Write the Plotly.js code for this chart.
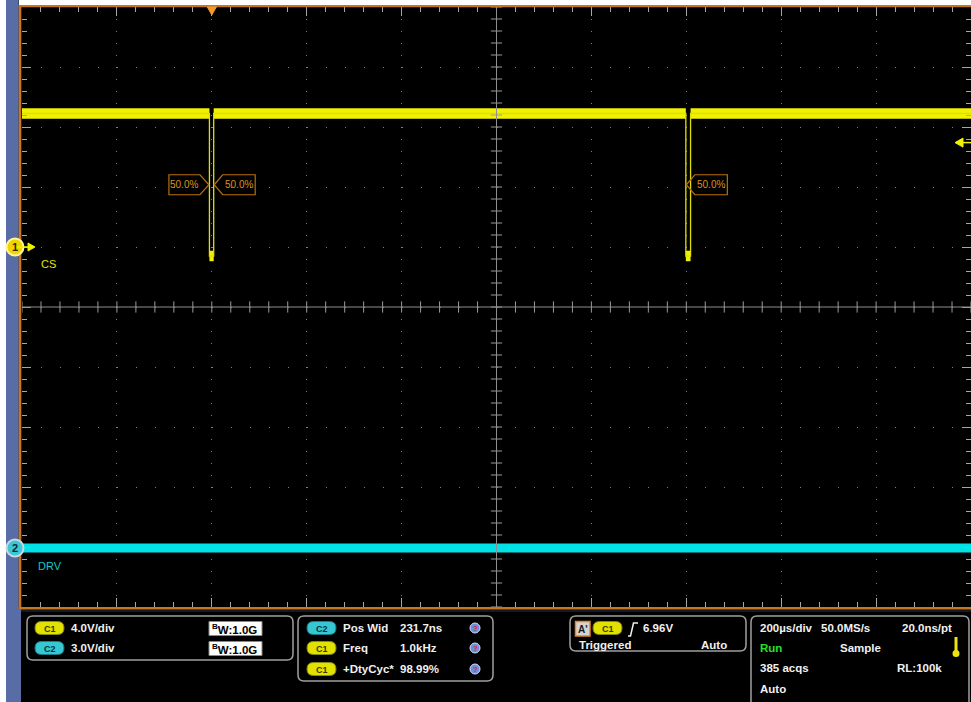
<!DOCTYPE html>
<html>
<head>
<meta charset="utf-8">
<script src="https://cdn.plot.ly/plotly-3.0.1.min.js"></script>
<style>html,body{margin:0;padding:0;background:#000;overflow:hidden}#chart{width:971px;height:702px}</style>
</head>
<body>
<div id="chart"></div>
<script>
// ---- data ----
// CH1 "CS" (4 V/div), time in microseconds relative to trigger (200 us/div)
const cs_t = [-400, -5, -5, 4, 4, 999, 999, 1009, 1009, 1600];
const cs_v = [8.9, 8.9, -0.6, -0.6, 8.9, 8.9, -0.6, -0.6, 8.9, 8.9];
// CH2 "DRV" (3 V/div)
const drv_t = [-400, 1600];
const drv_v = [0, 0];
// trigger level (V) and measurement edge times (us)
const trig_level = 6.96;
const edge_left_box = -5;   // falling edge, callout box on left
const edge_right_box = [4, 999]; // edges with callout box on right
// readouts
const ch_labels = ["C1", "C2"];
const ch_scales = ["4.0V/div", "3.0V/div"];
const bw_labels = ["1.0G", "1.0G"];
const meas_src = ["C2", "C1", "C1"];
const meas_names = ["Pos Wid", "Freq", "+DtyCyc*"];
const meas_vals = ["231.7ns", "1.0kHz", "98.99%"];
const trig_text = ["6.96V", "Triggered", "Auto"];
const acq_text = [["200\u00b5s/div", "50.0MS/s", "20.0ns/pt"], ["Run", "Sample"], ["385 acqs", "RL:100k"], ["Auto"]];

// ---- styling constants ----
const YEL = '#f2f200', CYN = '#00e2e6', ORG = '#c8761e';
const CS_BAND = 0.35, DRV_BAND = 0.23;
const L = 22, T = 7, PW = 949, PH = 600;
const px2x = p => (p - L) / PW;
const py2y = p => (T + PH - p) / PH;
const FONT = 'Liberation Sans, Arial, sans-serif';

const cs_hi = cs_v.map(v => v + CS_BAND), cs_lo = cs_v.map(v => v - CS_BAND);
const drv_hi = drv_v.map(v => v + DRV_BAND), drv_lo = drv_v.map(v => v - DRV_BAND);
const cs_mid = (Math.max(...cs_v) + Math.min(...cs_v)) / 2;

// center graticule ticks
const xr = [-400, 1600], yr = [-24, 16];
const cx = (xr[0] + xr[1]) / 2, cy = (yr[0] + yr[1]) / 2;
const tickX = [], tickY = [];
for (let t = xr[0]; t <= xr[1] + 1e-9; t += 40) tickX.push(t);
for (let v = yr[0]; v <= yr[1] + 1e-9; v += 0.8) tickY.push(v);

const traces = [
  {x: cs_t, y: cs_lo, mode: 'lines', line: {width: 0, color: YEL}, hoverinfo: 'skip'},
  {x: cs_t, y: cs_hi, mode: 'lines', fill: 'tonexty', fillcolor: YEL, line: {width: 0, color: YEL}, hoverinfo: 'skip'},
  {x: cs_t, y: cs_v, mode: 'lines', line: {width: 1.3, color: '#e0e000'}, hoverinfo: 'skip'},
  {x: drv_t, y: drv_lo, yaxis: 'y2', mode: 'lines', line: {width: 0, color: CYN}, hoverinfo: 'skip'},
  {x: drv_t, y: drv_hi, yaxis: 'y2', mode: 'lines', fill: 'tonexty', fillcolor: CYN, line: {width: 0, color: CYN}, hoverinfo: 'skip'},
  {x: tickX, y: tickX.map(() => cy), mode: 'markers', marker: {symbol: 'line-ns', size: 8, line: {width: 1, color: '#9a9a9a'}}, hoverinfo: 'skip'},
  {x: tickY.map(() => cx), y: tickY, mode: 'markers', marker: {symbol: 'line-ew', size: 8, line: {width: 1, color: '#9a9a9a'}}, hoverinfo: 'skip'}
];

function rr(x0, y0, x1, y1, r) {
  const X = px2x, Y = py2y;
  return `M${X(x0 + r)},${Y(y0)} L${X(x1 - r)},${Y(y0)} Q${X(x1)},${Y(y0)} ${X(x1)},${Y(y0 + r)} L${X(x1)},${Y(y1 - r)} Q${X(x1)},${Y(y1)} ${X(x1 - r)},${Y(y1)} L${X(x0 + r)},${Y(y1)} Q${X(x0)},${Y(y1)} ${X(x0)},${Y(y1 - r)} L${X(x0)},${Y(y0 + r)} Q${X(x0)},${Y(y0)} ${X(x0 + r)},${Y(y0)} Z`;
}
const prect = (x0, y0, x1, y1, fill, line, lw) => ({type: 'rect', xref: 'paper', yref: 'paper', x0: px2x(x0), x1: px2x(x1), y0: py2y(y1), y1: py2y(y0), fillcolor: fill, line: {width: lw || 0, color: line || fill}, layer: 'above'});
const ppath = (d, fill, line, lw) => ({type: 'path', xref: 'paper', yref: 'paper', path: d, fillcolor: fill, line: {width: lw, color: line}, layer: 'above'});
const ui = (t, x, y, o = {}) => ({xref: 'paper', yref: 'paper', x: px2x(x), y: py2y(y), xanchor: o.anchor || 'left', yanchor: 'middle', text: t, showarrow: false, borderpad: 0, font: {family: FONT, size: o.size || 11.5, color: o.color || '#f0f0f0', weight: o.weight || 700}});

const shapes = [], annotations = [];

// frame / borders
shapes.push(prect(19, 0, 975, 5, '#ffffff'));
shapes.push(prect(-2, -2, 6, 710, '#ffffff'));
shapes.push(prect(6, -2, 18.7, 710, '#586ca6'));
shapes.push(prect(6, 609.5, 21, 710, '#586ca6'));
shapes.push(prect(18.7, 5, 21.3, 609.5, ORG));
shapes.push(prect(18.7, 5, 975, 7.3, ORG));
shapes.push(prect(18.7, 606.9, 975, 609.5, ORG));
shapes.push(prect(21, 610.5, 975, 611.5, '#2a3346'));

// center cross lines
shapes.push({type: 'line', xref: 'x', yref: 'paper', x0: cx, x1: cx, y0: 0, y1: 1, line: {color: '#8e8e8e', width: 1}, layer: 'above'});
shapes.push({type: 'line', xref: 'paper', yref: 'y', x0: 0, x1: 1, y0: cy, y1: cy, line: {color: '#8e8e8e', width: 1}, layer: 'above'});

// ground markers
shapes.push({type: 'circle', xref: 'paper', yref: 'y', xsizemode: 'pixel', ysizemode: 'pixel', xanchor: 0, yanchor: 0, x0: -15.5, x1: 1.5, y0: -8.5, y1: 8.5, fillcolor: '#f2d400', line: {color: '#fff49a', width: 2}, layer: 'above'});
shapes.push({type: 'path', xref: 'paper', yref: 'y', xsizemode: 'pixel', ysizemode: 'pixel', xanchor: 0, yanchor: 0, path: 'M-6,0 L7,0', line: {color: YEL, width: 1.5}, layer: 'above'});
shapes.push({type: 'path', xref: 'paper', yref: 'y', xsizemode: 'pixel', ysizemode: 'pixel', xanchor: 0, yanchor: 0, path: 'M6,4 L13,0 L6,-4 Z', fillcolor: YEL, line: {color: YEL, width: 1}, layer: 'above'});
shapes.push({type: 'circle', xref: 'paper', yref: 'y2', xsizemode: 'pixel', ysizemode: 'pixel', xanchor: 0, yanchor: 0, x0: -15.5, x1: 1.5, y0: -8.5, y1: 8.5, fillcolor: '#3cc6d6', line: {color: '#c8d8e0', width: 2}, layer: 'above'});
annotations.push({xref: 'paper', yref: 'y', x: px2x(15), y: 0, xanchor: 'center', yanchor: 'middle', text: '<b>1</b>', showarrow: false, font: {family: FONT, size: 11, color: '#302800'}});
annotations.push({xref: 'paper', yref: 'y2', x: px2x(15), y: 0, xanchor: 'center', yanchor: 'middle', text: '<b>2</b>', showarrow: false, font: {family: FONT, size: 11, color: '#0c2a34'}});
annotations.push({xref: 'paper', yref: 'y', x: px2x(39), y: 0, yshift: -17, xanchor: 'left', yanchor: 'middle', text: 'CS', showarrow: false, font: {family: FONT, size: 11, color: '#e6e600'}});
annotations.push({xref: 'paper', yref: 'y2', x: px2x(36), y: 0, yshift: -18, xanchor: 'left', yanchor: 'middle', text: 'DRV', showarrow: false, font: {family: FONT, size: 11, color: '#10c8cc'}});

// trigger markers
shapes.push({type: 'path', xref: 'x', yref: 'paper', xsizemode: 'pixel', ysizemode: 'pixel', xanchor: 0, yanchor: 1, path: 'M-4.5,0 L4.5,0 L0,-8 Z', fillcolor: '#f29a2e', line: {color: '#f29a2e', width: 1}, layer: 'above'});
shapes.push({type: 'path', xref: 'paper', yref: 'y', xsizemode: 'pixel', ysizemode: 'pixel', xanchor: 1, yanchor: trig_level, path: 'M-16,0 L-8,4.5 L-8,-4.5 Z', fillcolor: YEL, line: {color: YEL, width: 1}, layer: 'above'});
shapes.push({type: 'path', xref: 'paper', yref: 'y', xsizemode: 'pixel', ysizemode: 'pixel', xanchor: 1, yanchor: trig_level, path: 'M-9,0 L2,0', line: {color: YEL, width: 1.5}, layer: 'above'});

// measurement callouts
const CO_LINE = '#b8700e', CO_TXT = '#dc921c';
shapes.push({type: 'path', xref: 'x', yref: 'y', xsizemode: 'pixel', ysizemode: 'pixel', xanchor: edge_left_box, yanchor: cs_mid, path: 'M-40.5,10 L-9.5,10 L-0.5,0 L-9.5,-10 L-40.5,-10 Z', line: {color: CO_LINE, width: 1.2}, layer: 'above'});
annotations.push({xref: 'x', yref: 'y', x: edge_left_box, y: cs_mid, xshift: -25, xanchor: 'center', yanchor: 'middle', text: '50.0%', showarrow: false, font: {family: FONT, size: 10, color: CO_TXT}});
edge_right_box.forEach(t => {
  shapes.push({type: 'path', xref: 'x', yref: 'y', xsizemode: 'pixel', ysizemode: 'pixel', xanchor: t, yanchor: cs_mid, path: 'M0.5,0 L9,10 L41.5,10 L41.5,-10 L9,-10 Z', line: {color: CO_LINE, width: 1.2}, layer: 'above'});
  annotations.push({xref: 'x', yref: 'y', x: t, y: cs_mid, xshift: 25.5, xanchor: 'center', yanchor: 'middle', text: '50.0%', showarrow: false, font: {family: FONT, size: 10, color: CO_TXT}});
});

// ---- bottom readout panels ----
const BOX = '#a0a0a0';
shapes.push(ppath(rr(27, 616, 293, 660, 6), 'rgba(0,0,0,0)', BOX, 1.5));
shapes.push(ppath(rr(298, 616, 493, 681, 6), 'rgba(0,0,0,0)', BOX, 1.5));
shapes.push(ppath(rr(570, 616, 746, 651, 6), 'rgba(0,0,0,0)', BOX, 1.5));
shapes.push(ppath(rr(751, 616, 969, 720, 6), 'rgba(0,0,0,0)', BOX, 1.5));

function pill(label, x0, yc) {
  const c1 = label === 'C1';
  shapes.push(ppath(rr(x0, yc - 6.5, x0 + 29, yc + 6.5, 6.5), c1 ? '#e2e200' : '#36c8d2', c1 ? '#8a8a10' : '#1e7a88', 1));
  annotations.push(ui('<b>' + label + '</b>', x0 + 14.5, yc + 0.5, {anchor: 'center', size: 9, color: c1 ? '#3a3a00' : '#083040'}));
}
// panel 1
[628, 648].forEach((y, i) => {
  pill(ch_labels[i], 35, y);
  annotations.push(ui('<b>' + ch_scales[i] + '</b>', 70, y));
  shapes.push(prect(209, y - 6.5, 262, y + 7.5, '#ffffff', '#888888', 1));
  annotations.push(ui('<b><sup>B</sup>W:' + bw_labels[i] + '</b>', 211, y + 1, {color: '#000000', size: 11.5}));
});
// panel 2
[628, 648, 669].forEach((y, i) => {
  pill(meas_src[i], 307, y);
  annotations.push(ui('<b>' + meas_names[i] + '</b>', 342, y));
  annotations.push(ui('<b>' + meas_vals[i] + '</b>', 399, y));
  shapes.push({type: 'circle', xref: 'paper', yref: 'paper', x0: px2x(470), x1: px2x(480), y0: py2y(y + 5), y1: py2y(y - 5), fillcolor: '#6a8ee0', line: {color: '#d6dcf0', width: 1}, layer: 'above'});
  annotations.push(ui('<b>?</b>', 475, y, {anchor: 'center', size: 8, color: '#e02828'}));
});
// panel 3
shapes.push(prect(575.5, 621.5, 590, 636, '#d4d4d4', '#e4861e', 1.5));
annotations.push(ui("<b>A'</b>", 582.8, 629, {anchor: 'center', size: 10, color: '#1a1a1a'}));
pill('C1', 593, 628);
shapes.push(ppath(`M${px2x(628)},${py2y(636)} L${px2x(630.5)},${py2y(636)} L${px2x(633.5)},${py2y(623)} L${px2x(638)},${py2y(623)}`, 'rgba(0,0,0,0)', '#f0f0f0', 1.5));
annotations.push(ui('<b>' + trig_text[0] + '</b>', 642, 628));
annotations.push(ui('<b>' + trig_text[1] + '</b>', 578, 645));
annotations.push(ui('<b>' + trig_text[2] + '</b>', 700, 645));
// panel 4
annotations.push(ui('<b>' + acq_text[0][0] + '</b>', 759, 628));
annotations.push(ui('<b>' + acq_text[0][1] + '</b>', 820, 628));
annotations.push(ui('<b>' + acq_text[0][2] + '</b>', 901, 628));
annotations.push(ui('<b>' + acq_text[1][0] + '</b>', 759, 648, {color: '#28e028'}));
annotations.push(ui('<b>' + acq_text[1][1] + '</b>', 839, 648));
annotations.push(ui('<b>' + acq_text[2][0] + '</b>', 759, 668));
annotations.push(ui('<b>' + acq_text[2][1] + '</b>', 896, 668));
annotations.push(ui('<b>' + acq_text[3][0] + '</b>', 759, 689));
shapes.push(prect(954.5, 637, 957.5, 651, '#f0e010'));
shapes.push({type: 'circle', xref: 'paper', yref: 'paper', x0: px2x(952.5), x1: px2x(959.5), y0: py2y(657), y1: py2y(650), fillcolor: '#f0e010', line: {width: 0}, layer: 'above'});

const layout = {
  width: 971, height: 702, autosize: false,
  margin: {l: L, r: 0, t: T, b: 702 - T - PH, pad: 0},
  paper_bgcolor: '#000000', plot_bgcolor: '#000000',
  showlegend: false, hovermode: false,
  xaxis: {range: xr, dtick: 200, tick0: -400, showgrid: true, gridcolor: '#808080', gridwidth: 1, griddash: '1px,11px',
    ticks: 'inside', ticklen: 9, tickcolor: '#a6a6a6', tickwidth: 1, showticklabels: false, zeroline: false, showline: false, mirror: 'ticks',
    minor: {dtick: 40, tick0: -400, ticks: 'inside', ticklen: 5, tickcolor: '#a6a6a6', tickwidth: 1, showgrid: false}, fixedrange: true},
  yaxis: {range: yr, dtick: 4, tick0: -24, showgrid: true, gridcolor: '#808080', gridwidth: 1, griddash: '1px,17.98px',
    ticks: 'inside', ticklen: 9, tickcolor: '#a6a6a6', tickwidth: 1, showticklabels: false, zeroline: false, showline: false, mirror: 'ticks',
    minor: {dtick: 0.8, tick0: -24, ticks: 'inside', ticklen: 5, tickcolor: '#a6a6a6', tickwidth: 1, showgrid: false}, fixedrange: true},
  yaxis2: {range: [-2.95, 27.05], overlaying: 'y', visible: false, showgrid: false, zeroline: false, fixedrange: true},
  shapes: shapes,
  annotations: annotations
};

Plotly.newPlot('chart', traces, layout, {displayModeBar: false, staticPlot: true});
</script>
</body>
</html>
